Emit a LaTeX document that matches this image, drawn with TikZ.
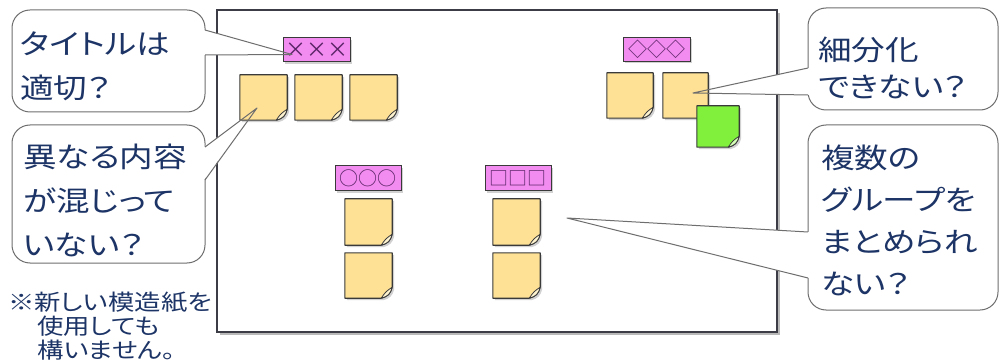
\documentclass[tikz,border=0pt]{standalone}
\usepackage{fontspec}
\newfontfamily\jp[RawFeature=+palt, FakeStretch=1.2]{Noto Sans CJK JP}
\newfontfamily\jpsym{Noto Sans CJK JP}
\usetikzlibrary{shadows,calc}
\definecolor{txtblue}{HTML}{1C3466}
\definecolor{calloutline}{HTML}{6E6E6E}
\definecolor{paperline}{HTML}{3C3C46}
\definecolor{stickyline}{HTML}{3A3A3A}
\definecolor{stickyyellow}{HTML}{FFE196}
\definecolor{flapyellow}{HTML}{FFF4D0}
\definecolor{stickygreen}{HTML}{80F03C}
\definecolor{flapgreen}{HTML}{D6FFB8}
\definecolor{labelpink}{HTML}{F28CF0}
\definecolor{symcol}{HTML}{5A2466}
\tikzset{
  paperbox/.style={draw=paperline, line width=1.2pt, fill=white, inner sep=0,
    drop shadow={shadow xshift=3pt, shadow yshift=-3pt, fill=black!50, opacity=0.55}},
  calloutbox/.style={draw=calloutline, line width=1pt, fill=white, rounded corners=18pt, inner sep=0},
  calltext/.style={font=\jp\fontsize{28}{44}\selectfont, text=txtblue, align=left, inner sep=0, anchor=west},
  notetext/.style={font=\jp\fontsize{22}{24}\selectfont, text=txtblue, align=left, inner sep=0, anchor=west},
  wedgeline/.style={draw=calloutline, line width=1pt, line join=round},
  stickyframe/.style={inner sep=0, draw=none},
  stickyedge/.style={draw=stickyline, line width=1.1pt, line join=round},
  stickyshadow/.style={drop shadow={shadow xshift=2pt, shadow yshift=-2pt, fill=black!40, opacity=0.45}},
  pinklabel/.style={draw=stickyline, line width=1pt, fill=labelpink, inner sep=0,
    font=\jpsym\fontsize{19}{19}\selectfont, text=symcol,
    drop shadow={shadow xshift=2pt, shadow yshift=-2pt, fill=black!40, opacity=0.45}},
}
% name, x1, y1, x2, y2, fill, flap fill
\newcommand{\stickynote}[7]{%
  \node[stickyframe, minimum width={(#4-#2)*1pt}, minimum height={(#5-#3)*1pt}] (#1) at ({(#2+#4)/2},{(#3+#5)/2}) {};
  \draw[stickyedge, fill=#6, stickyshadow] (#1.north west) -- (#1.north east)
     -- ($(#1.south east)+(0,-11)$) .. controls ($(#1.south east)+(-2,-4)$) and ($(#1.south east)+(-4,-2)$) .. ($(#1.south east)+(-11,0)$)
     -- (#1.south west) -- cycle;
  \draw[stickyedge, fill=#7, line width=0.8pt] ($(#1.south east)+(0,-11)$) .. controls ($(#1.south east)+(-2,-4)$) and ($(#1.south east)+(-4,-2)$) .. ($(#1.south east)+(-11,0)$)
     .. controls ($(#1.south east)+(-7,-6)$) and ($(#1.south east)+(-6,-7)$) .. cycle;
}
\begin{document}
\begin{tikzpicture}[x=1pt, y=-1pt]
\useasboundingbox (0,0) rectangle (1000,363);
% paper
\node[paperbox, minimum width=560pt, minimum height=322pt] (paper) at (497,171) {};
% callout bodies
\node[calloutbox, minimum width=193pt, minimum height=102pt] (c1) at (108.5,61) {};
\node[calloutbox, minimum width=193pt, minimum height=138pt] (c2) at (108.5,194) {};
\node[calloutbox, minimum width=190pt, minimum height=102pt] (c3) at (903,59) {};
\node[calloutbox, minimum width=190pt, minimum height=185pt] (c4) at (903,217.5) {};
% callout texts
\node[calltext] (t1) at (20,66) {タイトルは\\適切？};
\node[calltext] (t2) at (23,200) {異なる内容\\が混じって\\いない？};
\node[calltext, font=\jp\fontsize{28}{37}\selectfont] (t3) at (818,67.5) {細分化\\できない？};
\node[calltext, font=\jp\fontsize{28}{42}\selectfont] (t4) at (821,220.5) {複数の\\グループを\\まとめられ\\ない？};
\node[notetext] (note) at (8,326) {※新しい模造紙を\\\hspace*{29pt}使用しても\\\hspace*{29pt}構いません。};
% wedge coordinates
\coordinate (w1a) at (205,30);  \coordinate (w1b) at (205,55);  \coordinate (w1t) at (292,54.5);
\coordinate (w2a) at (205,147); \coordinate (w2b) at (205,180); \coordinate (w2t) at (257,108);
\coordinate (w3a) at (808,68);  \coordinate (w3b) at (808,95);  \coordinate (w3t) at (693,93);
\coordinate (w4a) at (808,232); \coordinate (w4b) at (808,278); \coordinate (w4t) at (567,218);
% wedge fills
\fill[white] ([xshift=-1pt]w1a) -- (w1t) -- ([xshift=-1pt]w1b) -- cycle;
\fill[white] ([xshift=-1pt]w2a) -- (w2t) -- ([xshift=-1pt]w2b) -- cycle;
\fill[white] ([xshift=1pt]w3a) -- (w3t) -- ([xshift=1pt]w3b) -- cycle;
\fill[white] ([xshift=1pt]w4a) -- (w4t) -- ([xshift=1pt]w4b) -- cycle;
% stickies
\stickynote{s1}{240}{75}{287}{120}{stickyyellow}{flapyellow}
\stickynote{s2}{295}{75}{342}{120}{stickyyellow}{flapyellow}
\stickynote{s3}{350}{75}{397}{120}{stickyyellow}{flapyellow}
\stickynote{s4}{607}{73}{653}{118}{stickyyellow}{flapyellow}
\stickynote{s5}{663}{73}{708}{118}{stickyyellow}{flapyellow}
\stickynote{s6}{697}{106}{739}{147}{stickygreen}{flapgreen}
\stickynote{s7}{345}{199}{392}{245}{stickyyellow}{flapyellow}
\stickynote{s8}{345}{253}{392}{298}{stickyyellow}{flapyellow}
\stickynote{s9}{493}{199}{540}{245}{stickyyellow}{flapyellow}
\stickynote{s10}{493}{253}{540}{298}{stickyyellow}{flapyellow}
% labels
\node[pinklabel, minimum width=67pt, minimum height=24pt, font=\jpsym\fontsize{21}{21}\selectfont] (lx) at (316.5,50) {×××};
\node[pinklabel, minimum width=67pt, minimum height=24pt] (ld) at (656.5,49.5) {◇◇◇};
\node[pinklabel, minimum width=66pt, minimum height=25pt] (lo) at (368,178.5) {○○○};
\node[pinklabel, minimum width=66pt, minimum height=25pt] (ls) at (518,178.5) {□□□};
% wedge lines
\draw[wedgeline] (w1a) -- (w1t) -- (w1b);
\draw[wedgeline] (w2a) -- (w2t) -- (w2b);
\draw[wedgeline] (w3a) -- (w3t) -- (w3b);
\draw[wedgeline] (w4a) -- (w4t) -- (w4b);
\end{tikzpicture}
\end{document}
